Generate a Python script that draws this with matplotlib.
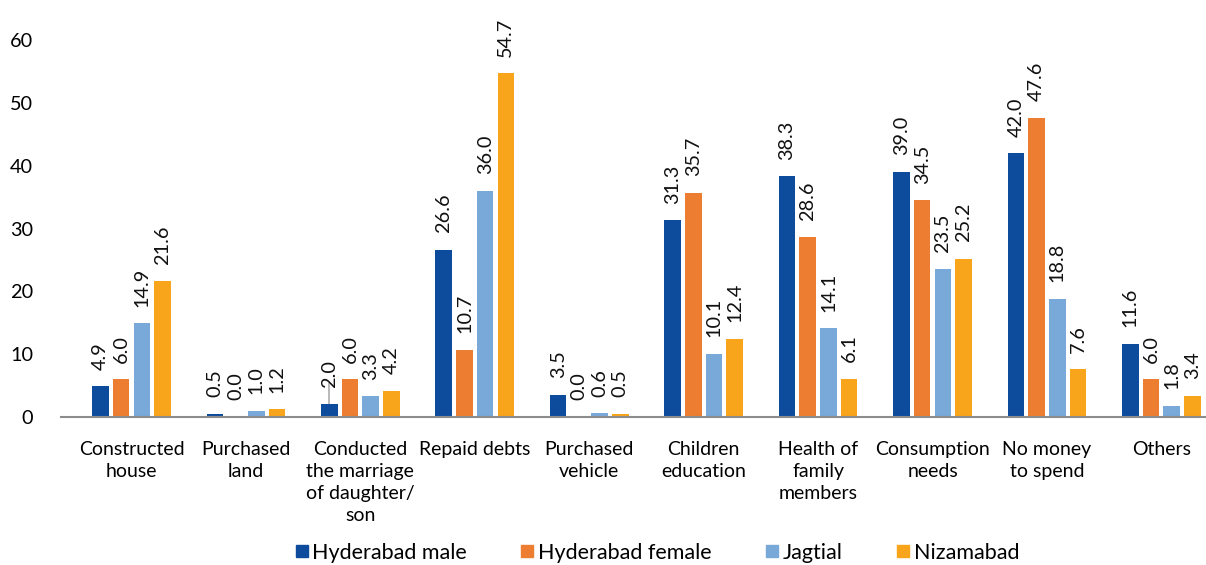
import matplotlib
matplotlib.use("Agg")
import matplotlib.pyplot as plt
import numpy as np

plt.rcParams['font.family'] = ['Lato', 'DejaVu Sans']

categories = ["Constructed\nhouse", "Purchased\nland", "Conducted\nthe marriage\nof daughter/\nson",
              "Repaid debts", "Purchased\nvehicle", "Children\neducation", "Health of\nfamily\nmembers",
              "Consumption\nneeds", "No money\nto spend", "Others"]
series_names = ["Hyderabad male", "Hyderabad female", "Jagtial", "Nizamabad"]
hyd_male = [4.9, 0.5, 2.0, 26.6, 3.5, 31.3, 38.3, 39.0, 42.0, 11.6]
hyd_female = [6.0, 0.0, 6.0, 10.7, 0.0, 35.7, 28.6, 34.5, 47.6, 6.0]
jagtial = [14.9, 1.0, 3.3, 36.0, 0.6, 10.1, 14.1, 23.5, 18.8, 1.8]
nizamabad = [21.6, 1.2, 4.2, 54.7, 0.5, 12.4, 6.1, 25.2, 7.6, 3.4]
colors = ["#0D4C9C", "#ED7D31", "#78A9D9", "#F9A51B"]
yticks = [0, 10, 20, 30, 40, 50, 60]

data = [hyd_male, hyd_female, jagtial, nizamabad]

fig = plt.figure(figsize=(12.06, 5.65), dpi=100)
ax = fig.add_axes([0.0506, 0.262, 0.9494, 0.667])

x = np.arange(len(categories))
step = 0.181
width = 0.144
for i, (vals, name, c) in enumerate(zip(data, series_names, colors)):
    pos = x + (i - 1.5) * step
    ax.bar(pos, vals, width=width, color=c, label=name, zorder=2)
    for px, v in zip(pos, vals):
        ax.annotate(f"{v:.1f}", (px, v), xytext=(0, 12), textcoords="offset points",
                    rotation=90, ha="center", va="bottom", fontsize=14.3, color="#111111",
                    annotation_clip=False)

# leader line on the marriage category label
mi = 2
ax.vlines(x[mi] - 1.5 * step, hyd_male[mi], hyd_male[mi] + 3.4, color="#A6A6A6", lw=1.1, zorder=1)

ax.set_ylim(0, 60)
ax.set_xlim(-0.616, 9.39)
ax.set_yticks(yticks)
ax.set_yticklabels([str(t) for t in yticks], fontsize=14.3)
ax.set_xticks(x)
ax.set_xticklabels(categories, fontsize=14, linespacing=1.37, va="top")
ax.tick_params(axis="y", length=0, pad=20)
ax.tick_params(axis="x", length=0, pad=17)
for s in ["left", "right", "top"]:
    ax.spines[s].set_visible(False)
ax.spines["bottom"].set_color("#8C8C8C")
ax.spines["bottom"].set_linewidth(1.5)

handles = [plt.Line2D([], [], marker="s", linestyle="", markersize=8, color=c) for c in colors]
fig.legend(handles, series_names, loc="center", bbox_to_anchor=(0.544, 0.022), ncol=4, frameon=False,
           fontsize=15.5, handletextpad=0.1, columnspacing=2.4, handlelength=0.8)

fig.savefig("out.png", dpi=100)
